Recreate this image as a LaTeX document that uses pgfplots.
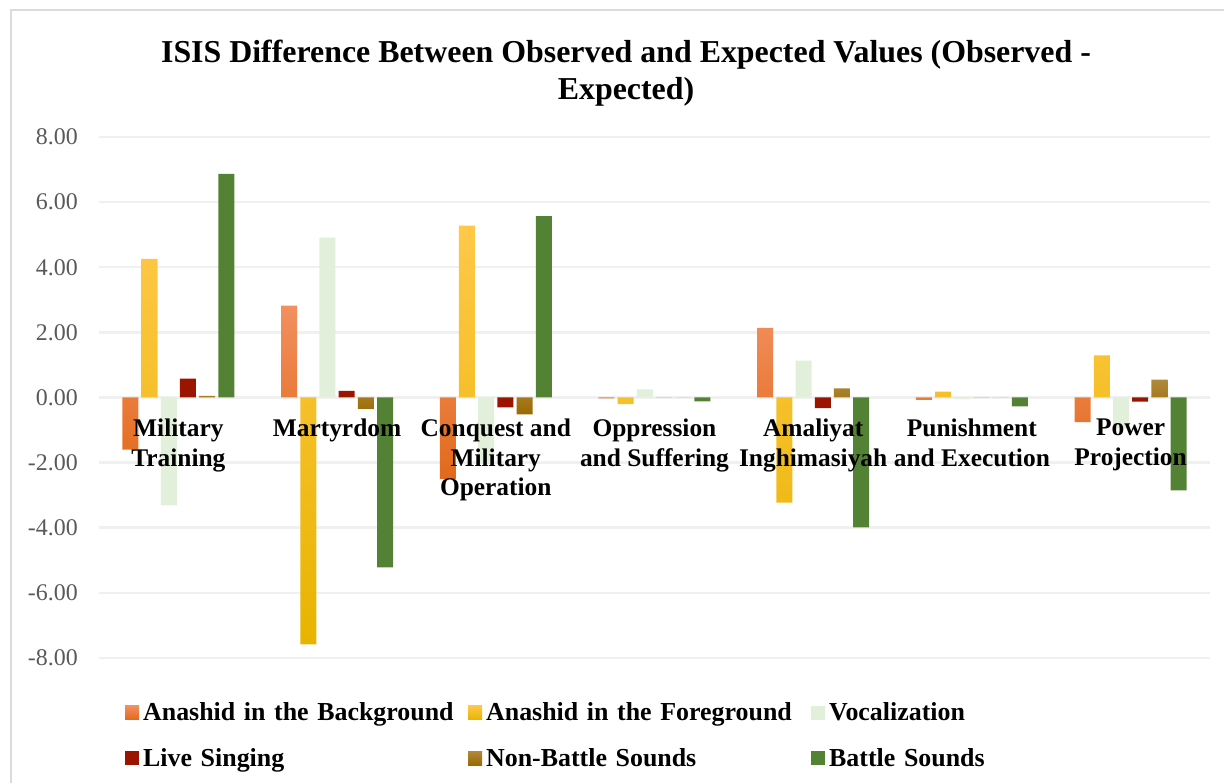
\documentclass[border=0pt]{standalone}
\usepackage{pgfplots}
\pgfplotsset{compat=1.18}
\usepackage{fontspec}
\setmainfont{Liberation Serif}
\definecolor{orTop}{HTML}{F29060}
\definecolor{orMid}{HTML}{F47C2C}
\definecolor{orBot}{HTML}{E2691A}
\definecolor{yeTop}{HTML}{FFC848}
\definecolor{yeMid}{HTML}{FFC000}
\definecolor{yeBot}{HTML}{E8B400}
\definecolor{voc}{HTML}{E2EFDA}
\definecolor{live}{HTML}{9A1400}
\definecolor{nbTop}{HTML}{B08A3C}
\definecolor{nbBot}{HTML}{9A6A00}
\definecolor{battle}{HTML}{548235}
\begin{document}
\begin{tikzpicture}
\path (0,0) rectangle (1225bp,784bp);
\draw[color=black!14, line width=1.5bp] (11bp,0.75bp) -- (11bp,774bp) -- (1224.25bp,774bp);
\node[font=\fontsize{32}{37}\selectfont\bfseries, align=center] at (626bp,711bp)
  {ISIS Difference Between Observed and Expected Values (Observed -\\Expected)};
\begin{axis}[
  set layers,
  every axis plot/.append style={on layer=axis ticks},
  at={(99bp,126bp)}, anchor=south west,
  scale only axis, width=1111bp, height=521bp,
  xmin=-0.5, xmax=6.5, ymin=-8, ymax=8,
  ybar=3.2bp, bar width=16bp,
  axis line style={draw=none},
  major tick length=0pt,
  xtick={0,...,6},
  xticklabels={{Military\\Training},{Martyrdom},{Conquest and\\Military\\Operation},{Oppression\\and Suffering},{Amaliyat\\Inghimasiyah},{Punishment\\and Execution},{Power\\Projection}},
  xticklabel style={align=center, anchor=north, inner sep=0pt, yshift=239bp,
    font=\fontsize{25.5}{29.5}\selectfont\bfseries},
  ytick={-8,-6,...,8},
  ymajorgrids,
  major grid style={line width=2.5bp, color=black!6},
  extra y ticks={0},
  extra y tick labels={},
  extra y tick style={grid style={line width=2.5bp, color=black!15}},
  yticklabel style={anchor=east, inner sep=0pt, xshift=-21bp,
    font=\fontsize{24}{28}\selectfont, text=black!65,
    /pgf/number format/.cd, fixed, fixed zerofill, precision=2, assume math mode=true},
  legend columns=3,
  legend image code/.code={\fill[#1] (0bp,-7bp) rectangle (14bp,7bp);},
  legend style={at={(0.0207,-0.082)}, anchor=north west, draw=none, fill=none,
    row sep=26bp,
    nodes={inner sep=0pt, text width=325bp, align=left,
      font=\fontsize{26}{30}\selectfont\bfseries},
    /tikz/every odd column/.append style={column sep=4bp}},
  legend cell align=left,
]
\addplot[draw=none, top color=orTop, middle color=orMid, bottom color=orBot] coordinates
  {(0,-1.60) (1,2.82) (2,-2.50) (3,-0.03) (4,2.14) (5,-0.07) (6,-0.76)};
\addlegendentry{Anashid in the Background}
\addplot[draw=none, top color=yeTop, middle color=yeMid, bottom color=yeBot] coordinates
  {(0,4.26) (1,-7.58) (2,5.28) (3,-0.20) (4,-3.23) (5,0.18) (6,1.29)};
\addlegendentry{Anashid in the Foreground}
\addplot[draw=none, fill=voc] coordinates
  {(0,-3.31) (1,4.91) (2,-2.05) (3,0.25) (4,1.13) (5,-0.05) (6,-0.95)};
\addlegendentry{Vocalization}
\addplot[draw=none, fill=live] coordinates
  {(0,0.58) (1,0.20) (2,-0.30) (3,0.00) (4,-0.33) (5,0.00) (6,-0.13)};
\addlegendentry{Live Singing}
\addplot[draw=none, top color=nbTop, bottom color=nbBot] coordinates
  {(0,0.05) (1,-0.35) (2,-0.52) (3,0.00) (4,0.28) (5,0.00) (6,0.55)};
\addlegendentry{Non-Battle Sounds}
\addplot[draw=none, fill=battle] coordinates
  {(0,6.87) (1,-5.22) (2,5.57) (3,-0.12) (4,-3.99) (5,-0.27) (6,-2.85)};
\addlegendentry{Battle Sounds}
\end{axis}
\end{tikzpicture}
\end{document}
